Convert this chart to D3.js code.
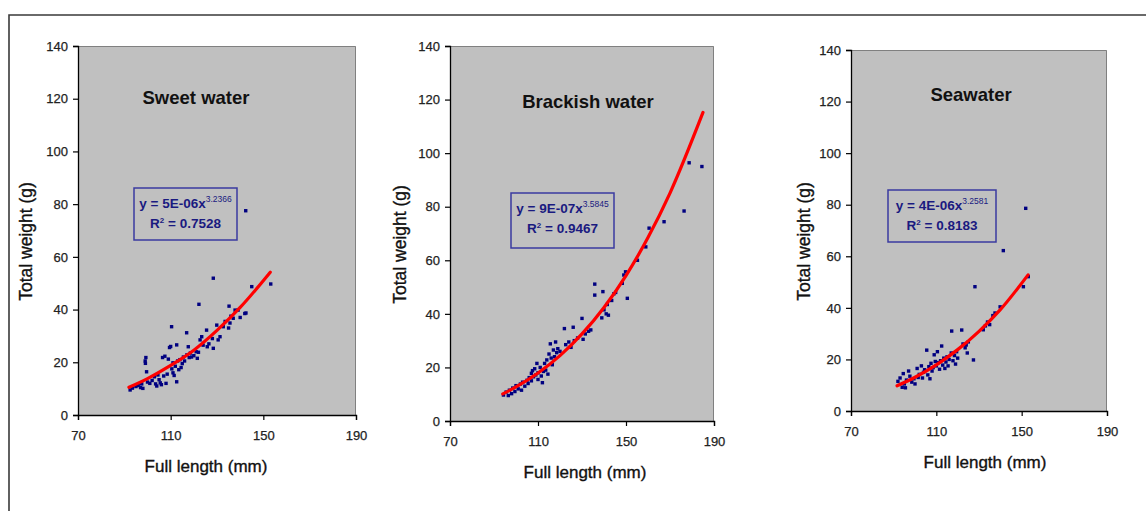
<!DOCTYPE html>
<html>
<head>
<meta charset="utf-8">
<script src="https://cdn.jsdelivr.net/npm/d3@7"></script>
<style>
  body { margin: 0; background: #fff; }
  svg { display: block; font-family: "Liberation Sans", Arial, sans-serif; }
</style>
</head>
<body>
<svg id="chart" width="1146" height="511"></svg>
<script>
// ticks y etiquetas
const xTicks = [70, 110, 150, 190];
const yTicks = [0, 20, 40, 60, 80, 100, 120, 140];
const titulos = ["Sweet water", "Brackish water", "Seawater"];
const coefs = ["5E-06", "9E-07", "4E-06"];
const exponentes = ["3.2366", "3.5845", "3.2581"];
const r2 = ["0.7528", "0.9467", "0.8183"];

// puntos [longitud mm, peso g]
const sweetPts = [[92.5,9.5],[93.5,10.2],[95,10.8],[96,11.2],[97,10.4],[97.5,11.8],[98,10.1],[99,20.5],[99.3,21.8],[99.1,19.6],[99.6,16.4],[100,12.5],[101,12.0],[102,13.1],[103,14.5],[103.5,11.8],[104,11.0],[104.5,15.2],[105,13.4],[105.5,12.2],[106,11.5],[106.5,21.8],[107,14.8],[107.5,22.3],[108,12.0],[108.5,15.5],[109,21.2],[109.5,25.6],[110,26.0],[110.4,33.5],[110.5,17.5],[111,16.0],[111.5,15.0],[111,19.8],[112,18.5],[112.6,12.6],[112.6,26.6],[113,20.5],[113.5,17.2],[114,21.0],[114.5,18.0],[115,19.5],[115.5,22.0],[116,20.5],[116.9,31.2],[117,22.8],[117.6,25.9],[118,21.8],[118.5,23.5],[119,22.0],[120,22.5],[121,24.0],[121.5,21.5],[122,23.8],[122.2,42.0],[122.7,28.5],[123.4,29.7],[124,26.5],[125.5,32.2],[125.8,25.9],[126.5,27.0],[128,29.0],[128.4,51.9],[128.4,25.3],[129.9,34.1],[130.5,28.5],[131.3,29.7],[132.7,33.5],[133.5,35.5],[135,33.0],[135.6,34.9],[135.2,41.3],[136,37.5],[137,36.7],[137.8,39.8],[139.1,39.8],[140,37.0],[142,38.5],[142.5,38.7],[142.4,77.5],[145,48.7],[153.2,49.7]];

const brackishPts = [[94.3,9.7],[95.5,10.8],[96.5,9.5],[97,11.5],[98,10.2],[98.5,12.3],[99.5,11.0],[100,13.2],[101,12.0],[102,13.8],[102.5,11.5],[103,14.5],[104,13.0],[105,15.2],[105.5,14.0],[106,16.2],[107,17.8],[107,15.0],[107.5,18.8],[108,16.5],[108.5,19.5],[109,17.2],[109.5,21.5],[110,18.0],[110,15.5],[111,20.0],[111.5,16.8],[112,14.3],[112.5,18.5],[113,21.5],[113.5,19.0],[114,22.8],[114.5,17.5],[115,25.0],[115.6,28.8],[116,23.5],[116.5,21.0],[117,26.5],[117.5,24.0],[118,29.5],[118.5,25.5],[119,27.0],[120,26.0],[122,34.5],[122.6,28.5],[124,29.5],[125,27.5],[126,35.0],[126.5,30.0],[128,31.0],[130,38.3],[130.5,30.5],[131.5,32.5],[133,33.5],[134,34.0],[135.8,51.1],[135.8,47.0],[139,38.5],[139.5,48.3],[140,41.5],[141,40.0],[141.5,43.5],[142,39.5],[143.5,45.0],[144.5,47.5],[145.3,48.0],[148.3,51.4],[149,54.5],[149.8,55.7],[150.6,45.8],[155.2,60],[159,65],[160.5,72],[167.3,74.4],[176.4,78.4],[178.7,96.4],[184.5,95]];

const seaPts = [[92,11.5],[93,12.8],[94,9.2],[94.5,14.5],[95,10.5],[95.5,9.0],[96,12.0],[97,15.5],[97.6,13.5],[98.5,11.2],[99.5,12.5],[100,10.5],[101,16.5],[101.5,13.0],[102,14.2],[103,17.5],[103.5,12.8],[104,15.0],[104.5,16.0],[105.5,23.6],[106,14.0],[106.5,17.2],[107,12.5],[107.5,18.5],[108,15.5],[108.5,16.8],[109,21.8],[109.5,19.2],[110,17.5],[110.5,23.0],[111,18.8],[111.5,16.2],[112,19.5],[112.5,25.2],[113,17.8],[113.5,20.5],[114,16.5],[114.5,19.0],[115,21.0],[115.5,17.5],[116,20.0],[117,22.5],[117.2,31.0],[117.8,19.5],[118.5,21.5],[119,18.2],[119.5,23.0],[120,20.5],[121.9,31.4],[122.5,26.0],[123.5,24.5],[124,25.6],[124.5,22.5],[125,26.8],[127.4,19.8],[128.1,48.2],[132,31.5],[133,33.0],[134,34.5],[135,33.5],[136.5,37.0],[137.5,38.0],[139.9,40.4],[141.4,62.2],[150.8,48.2],[151.9,78.6],[153.1,52.1]];

// linea de tendencia
const sweetTrend = [[92,10.5],[100,13.8],[110,18.8],[120,24.6],[130,32.1],[140,40.8],[153,54.2]];
const brackishTrend = [[94,10.1],[100,12.7],[110,17.9],[120,24.4],[130,32.5],[140,42.4],[150,54.3],[160,68.5],[170,85.1],[185,115.2]];
const seaTrend = [[91.6,9.8],[100,13.1],[110,17.9],[120,23.8],[130,30.9],[140,39.3],[153,52.8]];

const puntos = [sweetPts, brackishPts, seaPts];
const tendencias = [sweetTrend, brackishTrend, seaTrend];

// posiciones de cada panel
const paneles = [
  { l: 78, t: 46, r: 356, b: 415, tx: 196, ty: 104, xt: 206, yt: 26, box: [134, 188, 103, 52] },
  { l: 450, t: 46, r: 714, b: 421, tx: 588, ty: 108, xt: 585, yt: 400, box: [511, 193, 103, 55] },
  { l: 851, t: 50, r: 1107, b: 411, tx: 971, ty: 101, xt: 985, yt: 804, box: [888, 190, 108, 52] }
];

const svg = d3.select("#chart");

// marco exterior
svg.append("path")
  .attr("d", "M9,511 L9,15 L1146,15")
  .attr("fill", "none")
  .attr("stroke", "#3a3a3a")
  .attr("stroke-width", 1.6);

paneles.forEach((p, i) => {
  const x = d3.scaleLinear().domain([70, 190]).range([p.l, p.r]);
  const y = d3.scaleLinear().domain([0, 140]).range([p.b, p.t]);
  const g = svg.append("g");

  // fondo gris
  g.append("rect")
    .attr("x", p.l).attr("y", p.t)
    .attr("width", p.r - p.l).attr("height", p.b - p.t)
    .attr("fill", "#c0c0c0");
  g.append("path")
    .attr("d", `M${p.l},${p.t + 0.5}H${p.r - 0.5}V${p.b}`)
    .attr("fill", "none")
    .attr("stroke", "#808080");

  // ejes
  const ax = g.append("g")
    .attr("transform", `translate(0,${p.b})`)
    .call(d3.axisBottom(x).tickValues(xTicks).tickSize(5).tickPadding(11));
  const ay = g.append("g")
    .attr("transform", `translate(${p.l},0)`)
    .call(d3.axisLeft(y).tickValues(yTicks).tickSize(5).tickPadding(5));
  [ax, ay].forEach(a => {
    a.select(".domain").attr("stroke", "#000").attr("stroke-width", 1.3);
    a.selectAll(".tick line").attr("stroke", "#000").attr("stroke-width", 1.2);
    a.selectAll("text")
      .attr("fill", "#222")
      .attr("stroke", "#222")
      .attr("stroke-width", 0.25)
      .style("font-size", "13px")
      .style("font-family", "'Liberation Sans', Arial, sans-serif");
  });

  // puntos
  g.selectAll("rect.pt")
    .data(puntos[i])
    .join("rect")
    .attr("class", "pt")
    .attr("x", d => x(d[0]) - 1.7)
    .attr("y", d => y(d[1]) - 1.7)
    .attr("width", 3.4)
    .attr("height", 3.4)
    .attr("fill", "#000080");

  // tendencia
  const linea = d3.line()
    .x(d => x(d[0]))
    .y(d => y(d[1]))
    .curve(d3.curveMonotoneX);
  g.append("path")
    .datum(tendencias[i])
    .attr("d", linea)
    .attr("fill", "none")
    .attr("stroke", "#ff0000")
    .attr("stroke-width", 3.2)
    .attr("stroke-linecap", "round");

  // titulo
  g.append("text")
    .attr("x", p.tx).attr("y", p.ty)
    .attr("text-anchor", "middle")
    .style("font-size", "18.5px")
    .style("font-weight", "bold")
    .attr("fill", "#111")
    .text(titulos[i]);

  // ecuacion
  const [bx, by, bw, bh] = p.box;
  g.append("rect")
    .attr("x", bx).attr("y", by)
    .attr("width", bw).attr("height", bh)
    .attr("fill", "none")
    .attr("stroke", "#3a3aa0")
    .attr("stroke-width", 1.5);
  const eq = g.append("text")
    .attr("x", bx + bw / 2).attr("y", by + 20)
    .attr("text-anchor", "middle")
    .attr("fill", "#1a1a80")
    .style("font-size", "13.5px")
    .style("font-weight", "bold");
  eq.append("tspan").text(`y = ${coefs[i]}x`);
  eq.append("tspan").attr("dy", -6).style("font-size", "8.5px").style("font-weight", "normal").text(exponentes[i]);
  const eq2 = g.append("text")
    .attr("x", bx + bw / 2).attr("y", by + 40)
    .attr("text-anchor", "middle")
    .attr("fill", "#1a1a80")
    .style("font-size", "13.5px")
    .style("font-weight", "bold");
  eq2.append("tspan").text("R");
  eq2.append("tspan").attr("dy", -5).style("font-size", "8px").text("2");
  eq2.append("tspan").attr("dy", 5).text(` = ${r2[i]}`);

  // titulos de ejes
  g.append("text")
    .attr("x", p.xt).attr("y", p.b + 57)
    .attr("text-anchor", "middle")
    .attr("fill", "#111")
    .attr("stroke", "#111")
    .attr("stroke-width", 0.35)
    .style("font-size", "17px")
    .text("Full length (mm)");
  g.append("text")
    .attr("transform", `translate(${p.yt + 6},${(p.t + p.b) / 2 + 11}) rotate(-90)`)
    .attr("text-anchor", "middle")
    .attr("fill", "#111")
    .attr("stroke", "#111")
    .attr("stroke-width", 0.35)
    .style("font-size", "17.5px")
    .text("Total weight (g)");
});
</script>
</body>
</html>
